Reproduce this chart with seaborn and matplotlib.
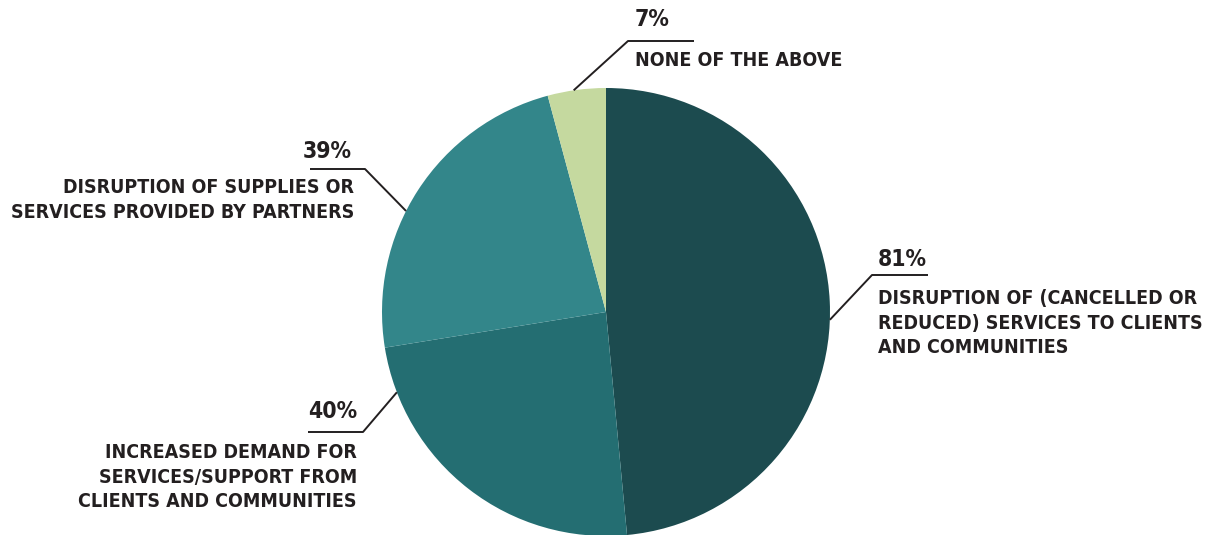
import numpy as np
import matplotlib
matplotlib.use("Agg")
import matplotlib.pyplot as plt
import seaborn as sns

# Survey responses: share of organisations reporting each impact
categories = [
    "DISRUPTION OF (CANCELLED OR\nREDUCED) SERVICES TO CLIENTS\nAND COMMUNITIES",
    "INCREASED DEMAND FOR\nSERVICES/SUPPORT FROM\nCLIENTS AND COMMUNITIES",
    "DISRUPTION OF SUPPLIES OR\nSERVICES PROVIDED BY PARTNERS",
    "NONE OF THE ABOVE",
]
values = [81, 40, 39, 7]
colors = ["#1c4b4f", "#246e72", "#33868a", "#c5d99f"]

sns.set_theme(style="white")
plt.rcParams["font.family"] = ["DejaVu Sans"]

W, H = 1207, 535
fig = plt.figure(figsize=(W / 100, H / 100), dpi=100)
ax = fig.add_axes([0, 0, 1, 1])

cx, cy, r = 606, H - 312, 224
ax.pie(values, colors=colors, startangle=90, counterclock=False,
       center=(cx, cy), radius=r, frame=True, wedgeprops=dict(linewidth=0))
ax.set_xlim(0, W)
ax.set_ylim(0, H)
ax.set_aspect("equal")
ax.axis("off")

ink = "#231f20"
# leader lines: angle on the rim, elbow point, end of horizontal stroke, side
leaders = [
    (-2.0, (872, 275), 928, "right"),
    (-159.0, (363, 432), 308, "left"),
    (153.2, (365, 169), 310, "left"),
    (98.3, (628, 41), 694, "right"),
]
pct_pos = [(878, 260), (357, 412), (352, 152), (635, 20)]
txt_top = [(878, 289), (357, 443), (354, 178), (635, 51)]

for i, (ang, (ex, ey), hx, side) in enumerate(leaders):
    a = np.deg2rad(ang)
    sx, sy = cx + r * np.cos(a), cy + r * np.sin(a)
    ax.plot([sx, ex, hx], [sy, H - ey, H - ey], color=ink, lw=1.4,
            solid_capstyle="butt", zorder=3)
    ha = "left" if side == "right" else "right"
    px, py = pct_pos[i]
    ax.text(px, H - py, f"{values[i]}%", ha=ha, va="center",
            fontsize=16.5, fontweight="bold", color=ink, fontstretch="condensed")
    tx, ty = txt_top[i]
    ax.text(tx, H - ty, categories[i], ha=ha, va="top",
            fontsize=14, fontweight="bold", color=ink, linespacing=1.38,
            multialignment=ha, fontstretch="condensed")

fig.savefig("out.png", dpi=100, facecolor="white")
